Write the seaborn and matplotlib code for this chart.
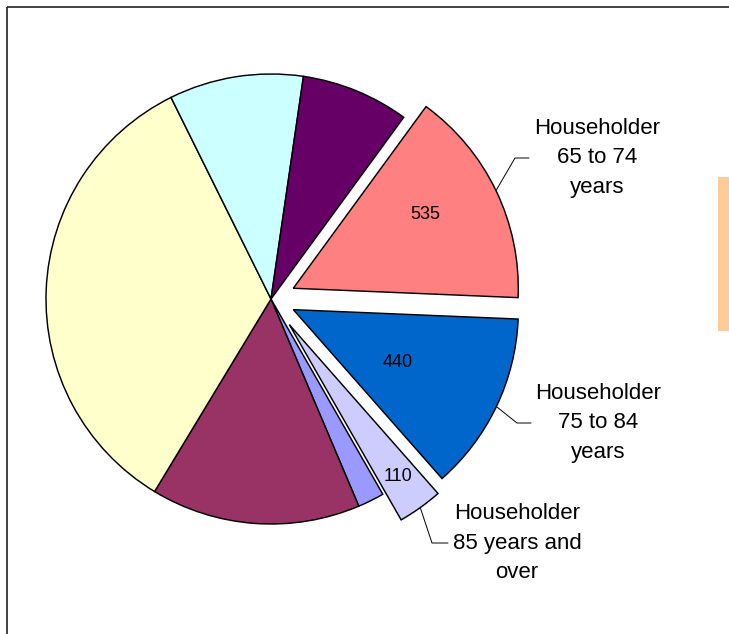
import matplotlib
matplotlib.use("Agg")
import numpy as np
import matplotlib.pyplot as plt
import seaborn as sns
from matplotlib.lines import Line2D
from matplotlib.patches import Rectangle

# Households by age of householder
age_groups = [
    "Householder 15 to 24 years",
    "Householder 25 to 34 years",
    "Householder 35 to 44 years",
    "Householder 45 to 54 years",
    "Householder 55 to 64 years",
    "Householder 65 to 74 years",
    "Householder 75 to 84 years",
    "Householder 85 years and over",
]
households = [65, 515, 1165, 330, 265, 535, 440, 110]
slice_colors = ["#9999FF", "#993366", "#FFFFCC", "#CCFFFF",
                "#660066", "#FF8080", "#0066CC", "#CCCCFF"]
explode = [0, 0, 0, 0, 0, 0.11, 0.11, 0.14]

# Slices that get a value label and a callout
callout_text = {
    5: "Householder\n65 to 74\nyears",
    6: "Householder\n75 to 84\nyears",
    7: "Householder\n85 years and\nover",
}

sns.set_theme(style="white")
plt.rcParams["font.family"] = ["Liberation Sans", "DejaVu Sans"]

W, H = 729, 634
fig = plt.figure(figsize=(W / 100, H / 100), dpi=100, frameon=False)
ax = fig.add_axes([0, 0, 1, 1])
ax.set_facecolor("white")

CX, CY, R = 271, 299, 225  # pie centre and radius in pixels


def to_data(x, y):
    return (x - CX) / R, (CY - y) / R


wedges, _ = ax.pie(
    households, colors=slice_colors, explode=explode,
    startangle=-60.2, counterclock=False, radius=1,
    wedgeprops=dict(edgecolor="black", linewidth=1.05),
)
ax.set_xlim(-CX / R, (W - CX) / R)
ax.set_ylim((CY - H) / R, CY / R)
ax.set_aspect("equal")
ax.set_xticks([])
ax.set_yticks([])
for spine in ax.spines.values():
    spine.set_visible(False)

# value label placement: (radial fraction, angular nudge in degrees)
value_pos = {5: (0.67, 3.5), 6: (0.52, -1.2), 7: (0.83, 0.0)}
# callout placement in pixels: text centre, elbow x, end of horizontal tick
callout_pos = {
    5: ((597, 158), 515, 529),
    6: ((598, 423), 517, 531),
    7: ((517, 543), 432, 448),
}

for i, text in callout_text.items():
    w = wedges[i]
    cx, cy = w.center
    mid = np.deg2rad((w.theta1 + w.theta2) / 2)

    frac, nudge = value_pos[i]
    a = mid + np.deg2rad(nudge)
    ax.text(cx + frac * np.cos(a), cy + frac * np.sin(a), str(households[i]),
            ha="center", va="center", fontsize=13, color="black")

    (tx, ty), ex, hx = callout_pos[i]
    rim = (cx + np.cos(mid), cy + np.sin(mid))
    elbow = to_data(ex, ty)
    end = to_data(hx, ty)
    ax.add_line(Line2D([rim[0], elbow[0], end[0]], [rim[1], elbow[1], end[1]],
                       color="black", lw=0.7))
    ax.text(*to_data(tx, ty), text, ha="center", va="center",
            fontsize=16, linespacing=1.52, color="black")

# legend swatch peeking in at the right edge
fig.add_artist(Rectangle((718 / W, 1 - 331 / H), (W - 718) / W,
                         (331 - 177) / H, transform=fig.transFigure,
                         facecolor="#FFCC99", edgecolor="none"))

# chart area border (runs off the right and bottom edges)
fig.add_artist(Line2D([6.5 / W, 1.0], [1 - 6.5 / H] * 2,
                      transform=fig.transFigure, color="#222222", lw=1.2,
                      solid_capstyle="butt"))
fig.add_artist(Line2D([6.5 / W] * 2, [0.0, 1 - 6.5 / H],
                      transform=fig.transFigure, color="#222222", lw=1.2,
                      solid_capstyle="butt"))

fig.savefig("out.png", dpi=100, facecolor="white")
